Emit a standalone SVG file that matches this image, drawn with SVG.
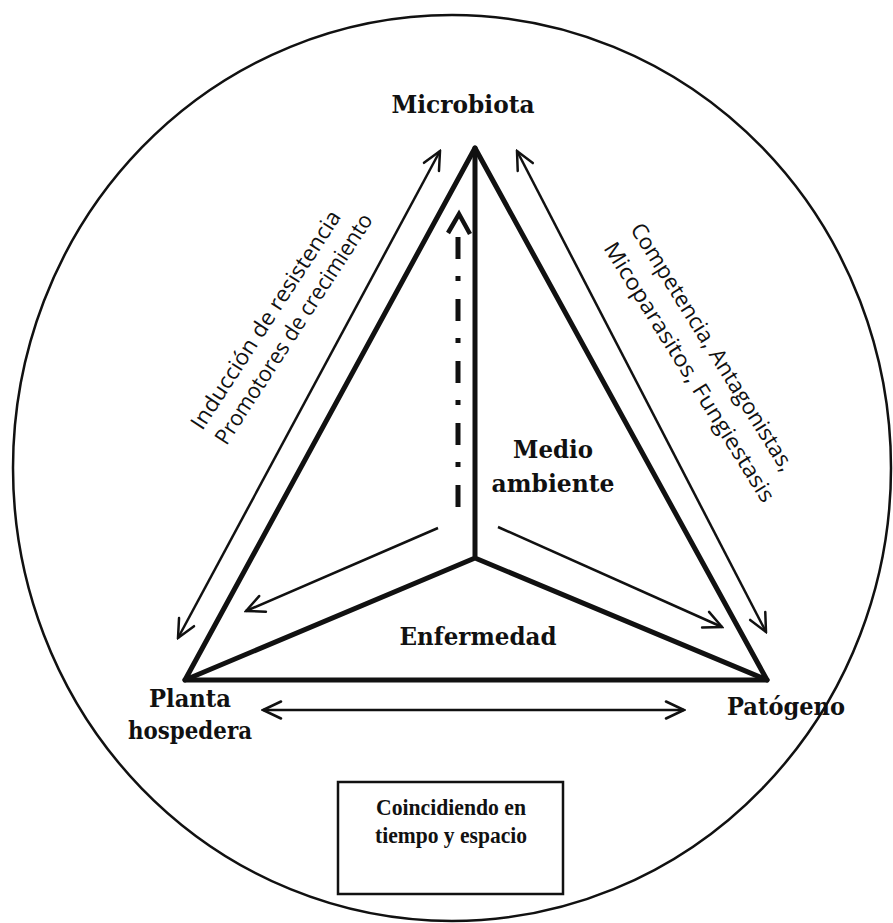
<svg xmlns="http://www.w3.org/2000/svg" width="893" height="923" viewBox="0 0 893 923">
<style>
.bold{font-family:"DejaVu Serif","Liberation Serif",serif;font-weight:bold;font-size:25px;fill:#111}
.boxt{font-family:"Liberation Serif","DejaVu Serif",serif;font-weight:bold;font-size:24px;fill:#111}
.sans{font-family:"Open Sans","Noto Sans",sans-serif;font-size:22px;fill:#111}
.thick{stroke:#111;stroke-width:5;fill:none;stroke-linecap:round;stroke-linejoin:round}
.thin{stroke:#111;stroke-width:2.5;fill:none}
</style>
<defs>
<marker id="ah" viewBox="0 0 22 22" refX="20" refY="11" markerWidth="22" markerHeight="22" markerUnits="userSpaceOnUse" orient="auto-start-reverse">
<path d="M2,2.5 L20,11 L2,19.5" fill="none" stroke="#111" stroke-width="2.5" stroke-linecap="round" stroke-linejoin="miter"/>
</marker>
</defs>
<rect width="893" height="923" fill="#fff"/>
<ellipse id="frame" cx="452" cy="468" rx="439" ry="453" class="thin"/>
<g id="connectors">
<path class="thick" d="M185,680 L475,148 L767,680 Z"/>
<path class="thick" d="M475,148 L475,558 M185,680 L475,558 L767,680"/>
<line class="thin" x1="178" y1="638" x2="440" y2="151" marker-start="url(#ah)" marker-end="url(#ah)"/>
<line class="thin" x1="517" y1="151" x2="766" y2="632" marker-start="url(#ah)" marker-end="url(#ah)"/>
<line class="thin" x1="263" y1="710" x2="684" y2="710" marker-start="url(#ah)" marker-end="url(#ah)"/>
<line class="thin" x1="438" y1="528" x2="246" y2="611" marker-end="url(#ah)"/>
<line class="thin" x1="498" y1="527" x2="722" y2="627" marker-end="url(#ah)"/>
<line x1="458" y1="237" x2="458" y2="516" stroke="#111" stroke-width="5" stroke-dasharray="22 17 5 18"/>
<path d="M448,233 L459,214 L470,234" fill="none" stroke="#111" stroke-width="4.5"/>
</g>
<g id="microbiota"><text class="bold" x="463" y="113" text-anchor="middle" textLength="143" lengthAdjust="spacingAndGlyphs">Microbiota</text></g>
<g id="planta"><text class="bold" x="190" y="707" text-anchor="middle" textLength="82" lengthAdjust="spacingAndGlyphs">Planta</text><text class="bold" x="190" y="739" text-anchor="middle" textLength="124" lengthAdjust="spacingAndGlyphs">hospedera</text></g>
<g id="patogeno"><text class="bold" x="786" y="715" text-anchor="middle" textLength="118" lengthAdjust="spacingAndGlyphs">Patógeno</text></g>
<g id="medio"><text class="bold" x="553" y="458" text-anchor="middle" textLength="80" lengthAdjust="spacingAndGlyphs">Medio</text><text class="bold" x="553" y="492" text-anchor="middle" textLength="123" lengthAdjust="spacingAndGlyphs">ambiente</text></g>
<g id="enfermedad"><text class="bold" x="478" y="645" text-anchor="middle" textLength="157" lengthAdjust="spacingAndGlyphs">Enfermedad</text></g>
<g id="coincidiendo">
<rect x="338" y="782" width="225" height="112" fill="none" stroke="#111" stroke-width="2.5"/>
<text class="boxt" x="451" y="815" text-anchor="middle" textLength="150" lengthAdjust="spacingAndGlyphs">Coincidiendo en</text>
<text class="boxt" x="451" y="843" text-anchor="middle" textLength="152" lengthAdjust="spacingAndGlyphs">tiempo y espacio</text>
</g>
<g id="label-left">
<text class="sans" text-anchor="middle" transform="translate(272,324) rotate(-57)" textLength="256" lengthAdjust="spacingAndGlyphs">Inducción de resistencia</text>
<text class="sans" text-anchor="middle" transform="translate(300,333) rotate(-57)" textLength="270" lengthAdjust="spacingAndGlyphs">Promotores de crecimiento</text>
</g>
<g id="label-right">
<text class="sans" text-anchor="middle" transform="translate(706,351) rotate(58)" textLength="288" lengthAdjust="spacingAndGlyphs">Competencia, Antagonistas,</text>
<text class="sans" text-anchor="middle" transform="translate(683,376) rotate(58)" textLength="302" lengthAdjust="spacingAndGlyphs">Micoparasitos, Fungiestasis</text>
</g>
</svg>
